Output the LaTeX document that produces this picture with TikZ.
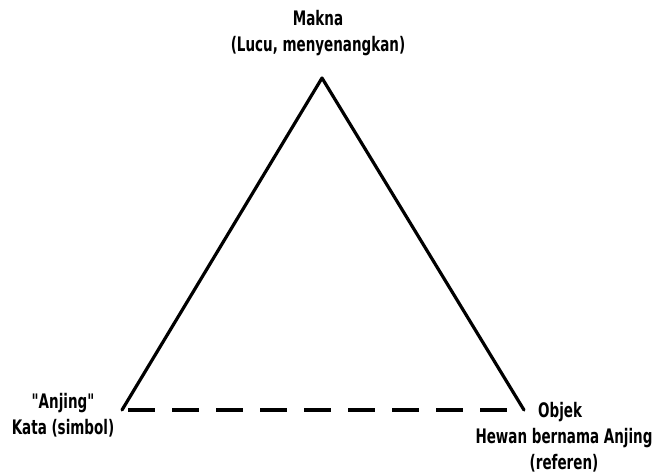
\documentclass[tikz,border=0pt]{standalone}
\usepackage{fontspec}
\newfontfamily\labfont[FakeStretch=0.75]{DejaVu Sans Condensed Bold}
\begin{document}
\begin{tikzpicture}[x=1pt,y=-1pt,
  lab/.style={font=\labfont\fontsize{20}{26}\selectfont, align=center, inner sep=0pt},
  edge/.style={line width=3.2pt, line join=round, line cap=round}]
\useasboundingbox (0,0) rectangle (654,474);
\coordinate (A) at (322,78);
\coordinate (B) at (122,410);
\coordinate (C) at (524,410);
\draw[edge] (B) -- (A) -- (C);
\draw[edge, line cap=butt, dash pattern=on 27pt off 17pt, dash phase=-6pt] (B) -- (C);
\node[lab] (makna) at (318,33) {Makna\\(Lucu, menyenangkan)};
\node[lab] (kata) at (63,415) {"Anjing"\\Kata (simbol)};
\node[lab, anchor=north west] (objek) at (538,402) {Objek};
\node[lab] (hewan) at (564,450) {Hewan bernama Anjing\\(referen)};
\end{tikzpicture}
\end{document}
